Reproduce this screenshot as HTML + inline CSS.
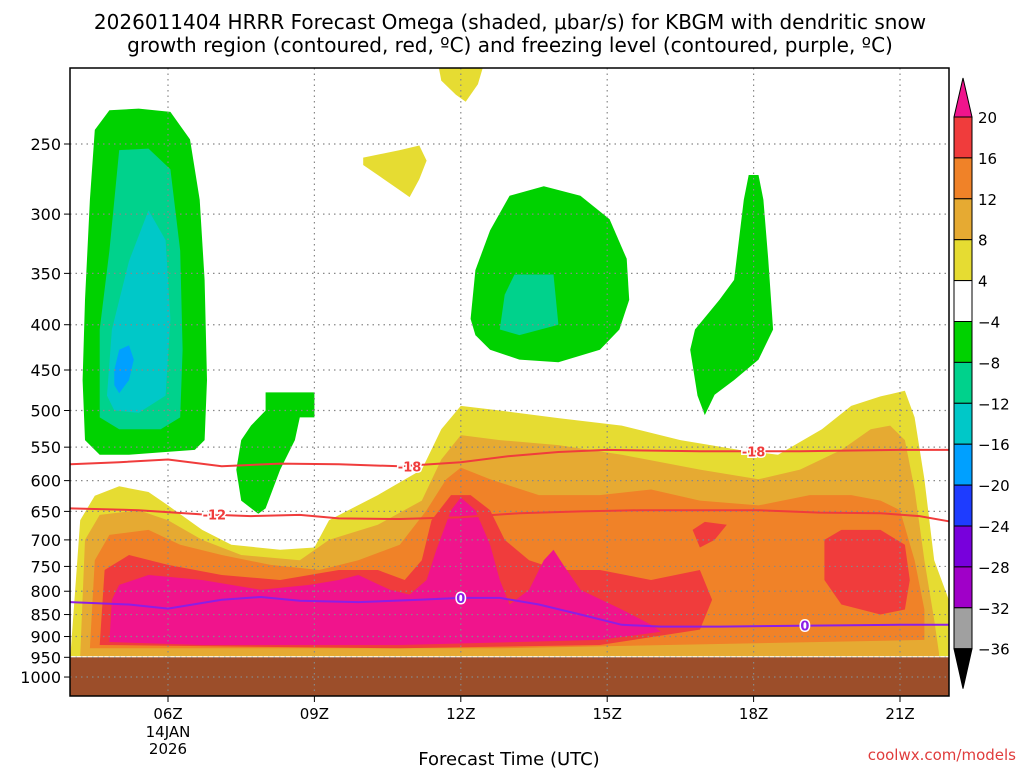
<!DOCTYPE html>
<html><head><meta charset="utf-8"><style>
html,body{margin:0;padding:0;background:#fff;}
svg{display:block;font-family:"DejaVu Sans","Liberation Sans",sans-serif;}
</style></head><body>
<svg id="chart" width="1024" height="768" xmlns="http://www.w3.org/2000/svg">
<rect width="1024" height="768" fill="#fff"/>
<text x="510" y="29" font-size="20" text-anchor="middle" fill="#000">2026011404 HRRR Forecast Omega (shaded, μbar/s) for KBGM with dendritic snow</text>
<text x="510" y="52" font-size="20" text-anchor="middle" fill="#000">growth region (contoured, red, ºC) and freezing level (contoured, purple, ºC)</text>
<g id="plot"></g>
<text x="509" y="765" font-size="18" text-anchor="middle">Forecast Time (UTC)</text>
<text x="1016" y="760" font-size="15" text-anchor="end" fill="#e03c3c">coolwx.com/models</text>
</svg>
<script>
// ---- data (time in hours UTC on 14 JAN 2026, pressure in hPa) ----
const pressureTicks = [250,300,350,400,450,500,550,600,650,700,750,800,850,900,950,1000];
const timeTicks = [6,9,12,15,18,21];
const timeTickLabels = ["06Z","09Z","12Z","15Z","18Z","21Z"];
const surfacePressure = 950;
const cbLevels = ["20","16","12","8","4","-4","-8","-12","-16","-20","-24","-28","-32","-36"];
const cbColors = ["#f03c3c","#f08228","#e6aa32","#e6dc32","#ffffff","#00d200","#00d28c","#00c8c8","#00a0ff","#1e3cff","#7800dc","#a000c8","#a0a0a0"];

const yellowMain = [[4.0,947],[4.2,665],[4.5,624],[5.0,609],[5.6,618],[6.0,640],[6.7,682],[7.3,709],[8.3,718],[9.0,714],[9.3,665],[10.3,623],[11.2,583],[11.6,525],[12.0,494],[12.8,500],[14.0,510],[15.3,520],[16.5,540],[17.7,554],[18.5,561],[19.4,525],[20.0,494],[20.6,482],[21.1,475],[21.3,509],[21.5,598],[21.7,738],[22,818],[22,947]];
const yellowIsland = [[10.0,259],[10.75,254],[11.15,251],[11.3,261],[11.15,274],[10.95,287],[10.75,282],[10.3,271],[10.0,264]];
const yellowTop = [[11.55,205],[12.45,205],[12.35,214],[12.1,224],[11.9,220],[11.6,212]];
const goldMain = [[4.2,947],[4.3,700],[4.6,656],[5.4,648],[6.0,665],[6.7,700],[7.5,728],[8.7,738],[9.3,700],[10.3,673],[11.2,632],[11.6,568],[12.0,533],[12.8,540],[14.0,547],[15.3,561],[16.9,583],[18.1,598],[18.95,583],[19.8,554],[20.4,525],[20.8,520],[21.1,540],[21.3,614],[21.5,738],[21.7,862],[21.8,940],[21.8,947]];
const orangeMain = [[4.4,928],[4.5,738],[4.8,691],[5.6,682],[6.25,709],[7.1,728],[8.1,747],[9.1,757],[9.9,738],[10.75,709],[11.3,648],[11.7,598],[12.0,580],[12.6,598],[13.6,623],[14.85,623],[15.9,614],[16.9,632],[18.1,640],[19.15,623],[20.0,623],[20.6,632],[21.0,648],[21.3,738],[21.5,839],[21.5,908],[12.8,928]];
const redMain = [[4.6,920],[4.7,757],[5.2,728],[6.0,747],[7.1,767],[8.3,777],[9.5,757],[10.3,757],[10.85,777],[11.2,738],[11.4,665],[11.8,623],[12.2,623],[12.6,648],[12.9,700],[13.4,738],[14.0,757],[14.85,757],[15.9,777],[16.9,757],[17.15,818],[16.9,884],[14.85,920],[10.75,928]];
const redRight = [[19.45,700],[19.8,682],[20.6,682],[21.1,709],[21.2,777],[21.1,839],[20.6,850],[19.8,828],[19.45,777]];
const redSmall = [[16.75,682],[17.0,668],[17.45,673],[17.2,700],[16.9,714]];
const magentaMain = [[4.8,913],[4.85,818],[5.0,787],[5.6,767],[6.7,777],[7.9,797],[8.9,787],[9.5,777],[9.9,767],[10.55,797],[10.95,807],[11.3,777],[11.5,718],[11.8,648],[12.0,627],[12.3,648],[12.6,709],[12.8,777],[13.0,828],[13.4,797],[13.7,738],[13.9,718],[14.1,747],[14.45,797],[15.3,839],[15.9,873],[16.1,889],[14.85,908],[10.75,920],[6.7,920]];
const greenLeft = [[4.3,540],[4.25,462],[4.3,375],[4.4,289],[4.5,241],[4.8,229],[5.4,228],[6.05,230],[6.45,247],[6.65,289],[6.75,356],[6.8,462],[6.75,540],[6.55,554],[5.95,557],[5.2,561],[4.6,561]];
const tealLeft = [[4.6,509],[4.6,405],[4.8,330],[5.0,254],[5.6,253],[6.05,267],[6.25,330],[6.3,427],[6.25,509],[5.85,525],[5.0,525]];
const cyanLeft = [[4.75,481],[4.85,405],[5.2,339],[5.6,297],[5.95,321],[6.05,394],[5.95,481],[5.4,503],[4.9,500]];
const blueLeft = [[4.9,450],[5.0,427],[5.2,422],[5.3,438],[5.2,462],[5.0,478],[4.9,468]];
const greenSmall = [[7.5,540],[7.7,520],[8.0,500],[8.0,477],[9.0,477],[9.0,509],[8.7,509],[8.6,540],[8.3,583],[8.0,645],[7.85,654],[7.5,632],[7.4,583]];
const greenMid = [[12.2,394],[12.3,347],[12.6,313],[13.0,286],[13.7,279],[14.45,286],[15.05,304],[15.4,337],[15.45,375],[15.25,405],[14.85,427],[14.0,441],[13.2,438],[12.6,427],[12.3,411]];
const tealMid = [[12.8,405],[12.9,370],[13.1,351],[13.9,351],[14.0,400],[13.2,411]];
const greenRight = [[16.7,427],[16.8,405],[17.3,375],[17.6,356],[17.8,289],[17.9,271],[18.1,271],[18.2,289],[18.3,337],[18.4,405],[18.1,438],[17.6,462],[17.2,480],[17.0,506],[16.85,481]];

const isoMinus18 = [[4.0,575],[5.0,572],[6,568],[7.1,578],[8.3,574],[9.5,575],[10.75,578],[12,572],[13.0,563],[14.0,557],[15,554],[16.9,556],[18.95,556],[21,554],[22,554]];
const isoMinus12 = [[4,645],[5.4,648],[6.65,655],[7.7,658],[8.7,656],[9.5,662],[10.75,663],[12,660],[13.2,653],[14.45,650],[15.7,648],[18.1,648],[19.35,652],[20.6,653],[21.4,658],[22,667]];
const isoZero = [[4,823],[5.2,828],[6,837],[7.1,818],[7.9,812],[8.7,820],[9.9,823],[11.15,818],[12,814],[12.8,814],[13.6,828],[14.45,850],[15.3,873],[16.1,877],[17.3,877],[18.95,875],[21,873],[22,873]];
const contourLabels = [["-18",10.95,578],["-18",18.0,556],["-12",6.95,655],["0",12,814],["0",19.05,875]];

// ---- axes ----
const X0=70,X1=949,Y0=68,Y1=696;
const xScale = h => 168 + (h-6)*48.8;
const yScale = p => 144 + 384.5*Math.log(p/250);
const NS="http://www.w3.org/2000/svg";
const g=document.getElementById('plot');
function mk(tag,attrs,parent){const e=document.createElementNS(NS,tag);for(const k in attrs)e.setAttribute(k,attrs[k]);(parent||g).appendChild(e);return e;}
function pts(arr){return arr.map(d=>xScale(d[0]).toFixed(1)+','+yScale(d[1]).toFixed(1)).join(' ');}

const clip=mk('clipPath',{id:'pc'});mk('rect',{x:X0,y:Y0,width:X1-X0,height:Y1-Y0},clip);
const inner=mk('g',{'clip-path':'url(#pc)'});



const fills=[
 [yellowMain,'#e6dc32','omega-4-8-main'],[yellowIsland,'#e6dc32','omega-4-8-island'],[yellowTop,'#e6dc32','omega-4-8-top'],
 [goldMain,'#e6aa32','omega-8-12'],[orangeMain,'#f08228','omega-12-16'],
 [redMain,'#f03c3c','omega-16-20-main'],[redRight,'#f03c3c','omega-16-20-right'],[redSmall,'#f03c3c','omega-16-20-small'],
 [magentaMain,'#f0148c','omega-above-20'],
 [greenLeft,'#00d200','omega-neg4-neg8-left'],[tealLeft,'#00d28c','omega-neg8-neg12-left'],[cyanLeft,'#00c8c8','omega-neg12-neg16-left'],[blueLeft,'#00a0ff','omega-neg16-neg20-left'],
 [greenSmall,'#00d200','omega-neg4-neg8-small'],[greenMid,'#00d200','omega-neg4-neg8-mid'],[tealMid,'#00d28c','omega-neg8-neg12-mid'],[greenRight,'#00d200','omega-neg4-neg8-right']
];
fills.forEach(f=>{const e=mk('polygon',{points:pts(f[0]),fill:f[1]},inner);
 
 });

const ground=mk('rect',{x:X0,y:yScale(surfacePressure),width:X1-X0,height:Y1-yScale(surfacePressure),fill:'#9c4e2a'},inner);



// grid
pressureTicks.forEach(p=>{const y=yScale(p);
 const l=mk('line',{x1:X0,x2:X1,y1:y,y2:y,stroke:'#888','stroke-width':1.2,'stroke-dasharray':'1.5,4'},inner);
 
 });
timeTicks.forEach(h=>{const x=xScale(h);
 const l=mk('line',{x1:x,x2:x,y1:Y0,y2:Y1,stroke:'#888','stroke-width':1.2,'stroke-dasharray':'1.5,4'},inner);
 
 });

// contours
[[isoMinus18,'#f03c3c','isotherm-minus18'],[isoMinus12,'#f03c3c','isotherm-minus12'],[isoZero,'#8c1ee6','freezing-level']].forEach(c=>{
 const e=mk('polyline',{points:pts(c[0]),fill:'none',stroke:c[1],'stroke-width':2},inner);
 
 });
contourLabels.forEach(c=>{const col=c[0]==='0'?'#8c1ee6':'#f03c3c';
 const t=mk('text',{x:xScale(c[1]),y:yScale(c[2])+5,'font-size':13,'font-weight':'bold','text-anchor':'middle',fill:col,stroke:'#fff','stroke-width':3,'paint-order':'stroke'},inner);
 t.textContent=c[0];
 
 });

// frame
const fr=mk('rect',{x:X0,y:Y0,width:X1-X0,height:Y1-Y0,fill:'none',stroke:'#000','stroke-width':1.5});



// y ticks
pressureTicks.forEach(p=>{const y=yScale(p);
 mk('line',{x1:X0-6,x2:X0,y1:y,y2:y,stroke:'#000'});
 const t=mk('text',{x:X0-9,y:y+6,'font-size':16,'text-anchor':'end'});t.textContent=p;
 
 });
// x ticks
timeTicks.forEach((h,i)=>{const x=xScale(h);
 mk('line',{x1:x,x2:x,y1:Y1,y2:Y1+6,stroke:'#000'});
 const t=mk('text',{x:x,y:719,'font-size':15,'text-anchor':'middle'});t.textContent=timeTickLabels[i];
 
 });
const d1=mk('text',{x:xScale(6),y:737,'font-size':15,'text-anchor':'middle'});d1.textContent='14JAN';


const d2=mk('text',{x:xScale(6),y:754,'font-size':15,'text-anchor':'middle'});d2.textContent='2026';



// colorbar
const cb=mk('g',{});


const CBX=954,CBW=18,CBT=117,CBS=40.9;
mk('polygon',{points:`${CBX},${CBT} ${CBX+CBW},${CBT} ${CBX+CBW/2},78`,fill:'#f0148c',stroke:'#000'},cb);
cbColors.forEach((c,i)=>{const r=mk('rect',{x:CBX,y:CBT+i*CBS,width:CBW,height:CBS,fill:c,stroke:'#000'},cb);
 
 });
const cbB=CBT+cbColors.length*CBS;
mk('polygon',{points:`${CBX},${cbB} ${CBX+CBW},${cbB} ${CBX+CBW/2},${cbB+40}`,fill:'#000',stroke:'#000'},cb);
cbLevels.forEach((l,i)=>{const t=mk('text',{x:978,y:CBT+i*CBS+6,'font-size':15},cb);t.textContent=l.replace('-','\u2212');
 
 });
</script>
</body></html>
